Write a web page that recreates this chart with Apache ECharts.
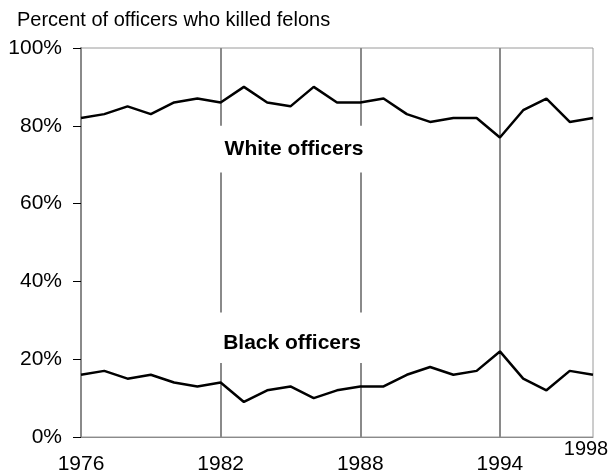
<!DOCTYPE html>
<html>
<head>
<meta charset="utf-8">
<script src="https://cdn.jsdelivr.net/npm/echarts@6/dist/echarts.min.js"></script>
<style>
	html, body { margin: 0; padding: 0; background: #fff; }
	#chart { width: 609px; height: 475px; }
</style>
</head>
<body>
<div id="chart"></div>
<script>
var years = [1976, 1977, 1978, 1979, 1980, 1981, 1982, 1983, 1984, 1985, 1986, 1987,
	1988, 1989, 1990, 1991, 1992, 1993, 1994, 1995, 1996, 1997, 1998];
var whiteOfficers = [82, 83, 85, 83, 86, 87, 86, 90, 86, 85, 90, 86,
	86, 87, 83, 81, 82, 82, 77, 84, 87, 81, 82];
var blackOfficers = [16, 17, 15, 16, 14, 13, 14, 9, 12, 13, 10, 12,
	13, 13, 16, 18, 16, 17, 22, 15, 12, 17, 16];
var yTicks = [0, 20, 40, 60, 80, 100];
// vertical divider lines (year, list of [from, to] pieces in %)
var dividers = [
	[1982, [[100, 80], [68, 32], [19, 0]]],
	[1988, [[100, 80], [68, 32], [19, 0]]],
	[1994, [[100, 0]]]
];

var chart = echarts.init(document.getElementById('chart'));
var font = 'Liberation Sans, Arial, sans-serif';
var gray = '#8a8a8a';

var segs = [];
dividers.forEach(function(d) {
	d[1].forEach(function(p) {
		segs.push([{ coord: [d[0], p[0]] }, { coord: [d[0], p[1]] }]);
	});
});

function pairs(vals) {
	return years.map(function(y, i) { return [y, vals[i]]; });
}

var option = {
	animation: false,
	grid: {
		left: 81, right: 16, top: 48, bottom: 36,
		show: true, borderColor: '#9a9a9a', borderWidth: 1
	},
	xAxis: {
		type: 'value',
		min: years[0],
		max: years[years.length - 1],
		interval: 6,
		axisLine: { show: true, lineStyle: { color: gray, width: 1 } },
		axisTick: { show: false },
		splitLine: { show: false },
		axisLabel: {
			margin: 17,
			color: '#000',
			fontFamily: font,
			fontSize: 21,
			formatter: function(v) { return v === 1998 ? '' : String(v); }
		}
	},
	yAxis: {
		type: 'value',
		min: yTicks[0],
		max: yTicks[yTicks.length - 1],
		interval: 20,
		axisLine: { show: true, lineStyle: { color: gray, width: 2 } },
		axisTick: { show: true, length: 8, lineStyle: { color: '#000', width: 1 } },
		splitLine: { show: false },
		axisLabel: {
			margin: 19,
			color: '#000',
			fontFamily: font,
			fontSize: 21,
			formatter: '{value}%'
		}
	},
	graphic: [
		{ type: 'text', left: 17, top: 10,
			style: { text: 'Percent of officers who killed felons', fill: '#000', font: '20px ' + font } },
		{ type: 'text', x: 294, y: 149,
			style: { text: 'White officers', fill: '#000', font: 'bold 21px ' + font, textAlign: 'center', textVerticalAlign: 'middle' } },
		{ type: 'text', x: 292, y: 343,
			style: { text: 'Black officers', fill: '#000', font: 'bold 21px ' + font, textAlign: 'center', textVerticalAlign: 'middle' } },
		{ type: 'text', x: 586, y: 449,
			style: { text: '1998', fill: '#000', font: '20px ' + font, textAlign: 'center', textVerticalAlign: 'middle' } }
	],
	series: [
		{
			name: 'White officers',
			type: 'line',
			data: pairs(whiteOfficers),
			showSymbol: false,
			z: 5,
			lineStyle: { color: '#000', width: 2.5 },
			markLine: {
				silent: true,
				symbol: 'none',
				label: { show: false },
				lineStyle: { color: gray, width: 2, type: 'solid' },
				data: segs
			}
		},
		{
			name: 'Black officers',
			type: 'line',
			data: pairs(blackOfficers),
			showSymbol: false,
			z: 5,
			lineStyle: { color: '#000', width: 2.5 }
		}
	]
};
chart.setOption(option);
</script>
</body>
</html>
